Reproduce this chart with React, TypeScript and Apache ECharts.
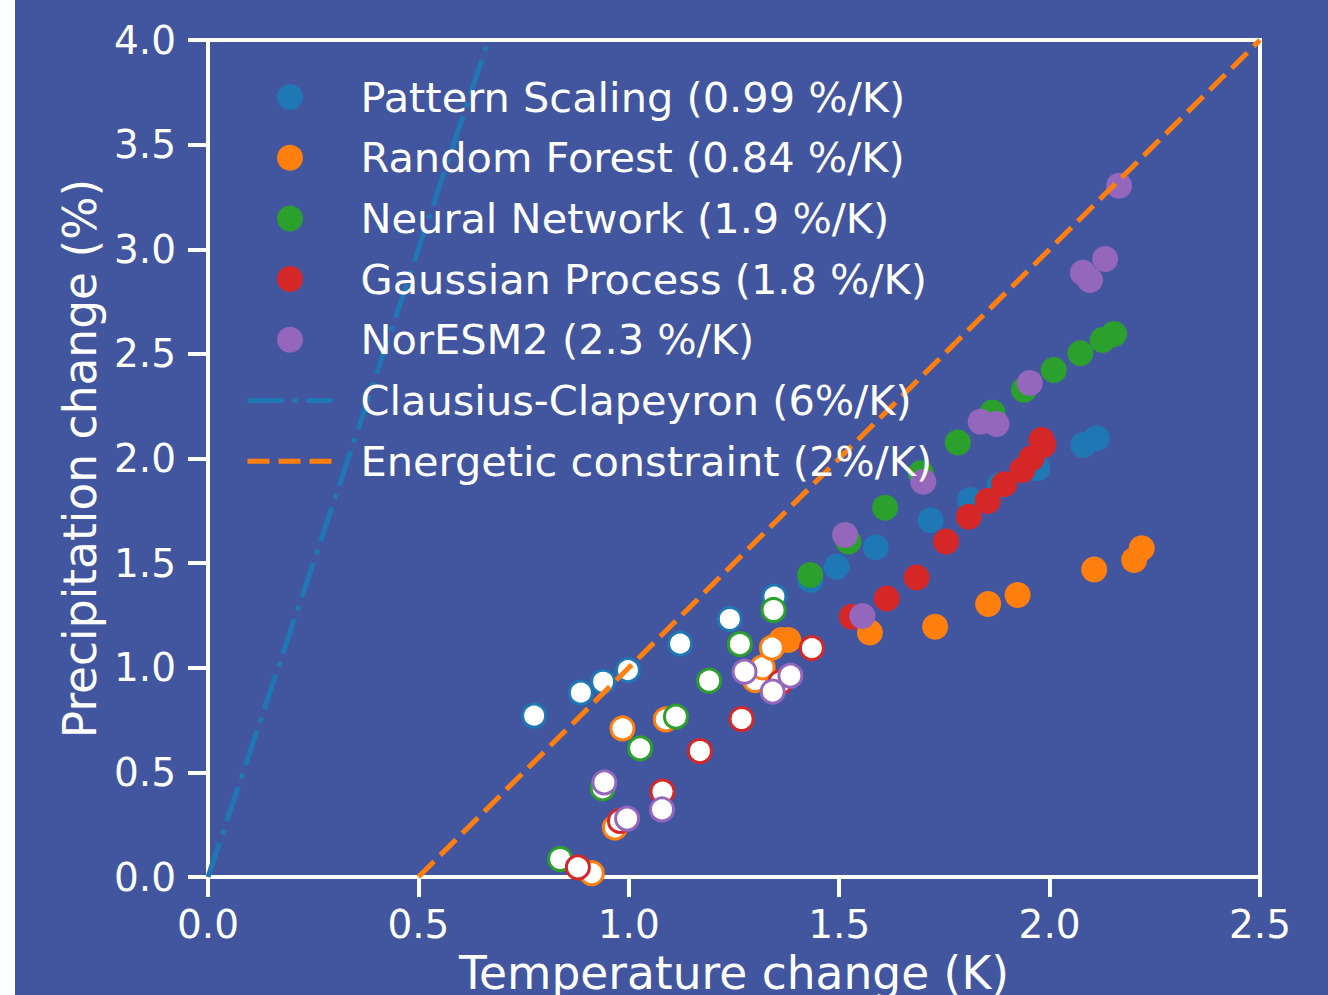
import React, { useEffect, useRef } from "react";
import * as echarts from "echarts";

// ---- data ----
const modelNames = [
  "Pattern Scaling (0.99 %/K)",
  "Random Forest (0.84 %/K)",
  "Neural Network (1.9 %/K)",
  "Gaussian Process (1.8 %/K)",
  "NorESM2 (2.3 %/K)",
];
const modelColors = ["#1f77b4", "#ff7f0e", "#2ca02c", "#d62728", "#9467bd"];

const psHollow = [[0.775, 0.771], [0.886, 0.881], [0.939, 0.933], [0.998, 0.989], [1.122, 1.115], [1.24, 1.233], [1.346, 1.34]];
const psFilled = [[1.432, 1.419], [1.494, 1.483], [1.587, 1.576], [1.717, 1.705], [1.811, 1.802], [1.881, 1.873], [1.971, 1.953], [2.08, 2.065], [2.112, 2.097]];

const rfHollow = [[0.912, 0.018], [0.967, 0.236], [0.985, 0.71], [1.088, 0.753], [1.3, 0.941], [1.318, 1.002], [1.34, 1.096]];
const rfFilled = [[1.363, 1.133], [1.379, 1.133], [1.573, 1.169], [1.728, 1.196], [1.854, 1.305], [1.924, 1.348], [2.106, 1.47], [2.201, 1.515], [2.219, 1.571]];

const nnHollow = [[0.837, 0.086], [0.938, 0.424], [1.027, 0.615], [1.112, 0.766], [1.191, 0.938], [1.264, 1.113], [1.344, 1.276]];
const nnFilled = [[1.431, 1.443], [1.522, 1.603], [1.609, 1.765], [1.694, 1.929], [1.782, 2.076], [1.864, 2.22], [1.939, 2.329], [2.01, 2.423], [2.073, 2.503], [2.126, 2.566], [2.153, 2.595]];

const gpHollow = [[0.879, 0.046], [0.979, 0.268], [1.08, 0.408], [1.169, 0.602], [1.268, 0.755], [1.36, 0.93], [1.435, 1.094]];
const gpFilled = [[1.53, 1.244], [1.613, 1.331], [1.684, 1.431], [1.754, 1.603], [1.808, 1.722], [1.853, 1.797], [1.892, 1.877], [1.935, 1.945], [1.957, 2.001], [1.981, 2.088], [1.985, 2.065]];

const neHollow = [[0.942, 0.452], [0.996, 0.279], [1.079, 0.323], [1.275, 0.981], [1.342, 0.886], [1.384, 0.962]];
const neFilled = [[1.514, 1.634], [1.555, 1.247], [1.7, 1.889], [1.836, 2.176], [1.874, 2.165], [1.953, 2.361], [2.079, 2.888], [2.096, 2.853], [2.132, 2.953], [2.165, 3.304]];

const ccName = "Clausius-Clapeyron (6%/K)";
const ccLine = [[0, 0], [0.6667, 4]];
const ecName = "Energetic constraint (2%/K)";
const ecLine = [[0.5, 0], [2.5, 4]];

const xTicks = [0, 0.5, 1.0, 1.5, 2.0, 2.5];
const yTicks = [0, 0.5, 1.0, 1.5, 2.0, 2.5, 3.0, 3.5, 4.0];

const hollowSets = [psHollow, rfHollow, nnHollow, gpHollow, neHollow];
const filledSets = [psFilled, rfFilled, nnFilled, gpFilled, neFilled];

const BG = "#4256a0";
const FONT = "DejaVu Sans";
const CC_DASH = [36, 9, 5, 9];
const EC_DASH = [22, 9];

export default function App() {
  const ref = useRef<HTMLDivElement>(null);
  useEffect(() => {
    document.body.style.margin = "0";
    const chart = echarts.init(ref.current!, undefined, { renderer: "svg" });

    const series: any[] = [];
    modelNames.forEach((name, i) => {
      series.push({
        type: "scatter",
        name,
        data: filledSets[i],
        symbol: "circle",
        symbolSize: 26,
        itemStyle: { color: modelColors[i], opacity: 1 },
        emphasis: { disabled: true },
      });
      series.push({
        type: "scatter",
        name: name + " (early)",
        data: hollowSets[i],
        symbol: "circle",
        symbolSize: 23,
        itemStyle: { color: "#ffffff", borderColor: modelColors[i], borderWidth: 3, opacity: 1 },
        emphasis: { disabled: true },
      });
    });
    series.push({
      type: "line",
      name: ccName,
      data: ccLine,
      symbol: "none",
      lineStyle: { color: "#1f77b4", width: 5, type: CC_DASH },
      itemStyle: { color: "#1f77b4" },
      emphasis: { disabled: true },
      z: 3,
    });
    series.push({
      type: "line",
      name: ecName,
      data: ecLine,
      symbol: "none",
      lineStyle: { color: "#ff7f0e", width: 5, type: EC_DASH },
      itemStyle: { color: "#ff7f0e" },
      emphasis: { disabled: true },
      z: 3,
    });

    const fmt = (v: number) => v.toFixed(1);

    chart.setOption({
      animation: false,
      backgroundColor: BG,
      textStyle: { fontFamily: FONT },
      graphic: [
        { type: "rect", left: 0, top: 0, shape: { x: 0, y: 0, width: 15, height: 995 }, style: { fill: "#ffffff" }, z: -10 },
      ],
      grid: {
        left: 208,
        right: 68,
        top: 40,
        bottom: 118,
        outerBoundsMode: "none",
        containLabel: false,
        show: true,
        borderColor: "#ffffff",
        borderWidth: 4,
        backgroundColor: "transparent",
      },
      legend: {
        show: true,
        orient: "vertical",
        left: 240,
        top: 71,
        itemWidth: 85,
        itemHeight: 26,
        itemGap: 18.7,
        selectedMode: false,
        data: [
          ...modelNames,
          { name: ccName, itemStyle: { opacity: 0 }, lineStyle: { width: 5, color: "#1f77b4", type: CC_DASH } },
          { name: ecName, itemStyle: { opacity: 0 }, lineStyle: { width: 5, color: "#ff7f0e", type: EC_DASH } },
        ],
        textStyle: { color: "#ffffff", fontSize: 41.5, fontFamily: FONT, lineHeight: 41, padding: [0, 0, 0, 23] },
      },
      xAxis: {
        type: "value",
        min: xTicks[0],
        max: xTicks[xTicks.length - 1],
        interval: 0.5,
        name: "Temperature change (K)",
        nameLocation: "middle",
        nameGap: 73,
        nameTextStyle: { color: "#ffffff", fontSize: 45.5, fontFamily: FONT },
        axisLine: { show: true, onZero: false, lineStyle: { color: "#ffffff", width: 4 } },
        axisTick: { show: true, length: 20, lineStyle: { color: "#ffffff", width: 4 } },
        axisLabel: { color: "#ffffff", fontSize: 39, fontFamily: FONT, margin: 28, formatter: fmt },
        splitLine: { show: false },
      },
      yAxis: {
        type: "value",
        min: yTicks[0],
        max: yTicks[yTicks.length - 1],
        interval: 0.5,
        name: "Precipitation change (%)",
        nameLocation: "middle",
        nameGap: 103,
        nameTextStyle: { color: "#ffffff", fontSize: 45.5, fontFamily: FONT },
        axisLine: { show: true, onZero: false, lineStyle: { color: "#ffffff", width: 4 } },
        axisTick: { show: true, length: 20, lineStyle: { color: "#ffffff", width: 4 } },
        axisLabel: { color: "#ffffff", fontSize: 39, fontFamily: FONT, margin: 32, formatter: fmt },
        splitLine: { show: false },
      },
      series,
    });
    return () => chart.dispose();
  }, []);
  return <div ref={ref} style={{ width: 1328, height: 995 }} />;
}
